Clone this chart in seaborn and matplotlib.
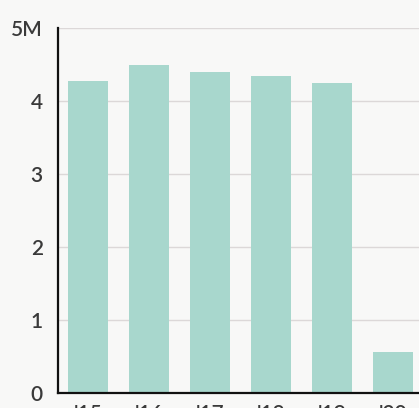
import numpy as np
import pandas as pd
import matplotlib
matplotlib.use("Agg")
import matplotlib.pyplot as plt
import seaborn as sns

# Values (millions)
years = ["'15", "'16", "'17", "'18", "'19", "'20"]
values_m = [4.27, 4.49, 4.40, 4.34, 4.25, 0.56]
y_ticks = [0, 1, 2, 3, 4, 5]
y_labels = ["0", "1", "2", "3", "4", "5M"]

BAR_COLOR = "#a8d7cd"
BG = "#f8f8f7"

df = pd.DataFrame({"year": years, "value": np.array(values_m) * 1e6})

sns.set_style("white")
plt.rcParams["font.family"] = ["Lato", "DejaVu Sans"]

fig = plt.figure(figsize=(4.19, 4.08), dpi=100, facecolor=BG)
ax = fig.add_axes([58 / 419, 15 / 408, 1 - 58 / 419, (393 - 28) / 408])
ax.set_facecolor(BG)

sns.barplot(data=df, x="year", y="value", color=BAR_COLOR, width=0.65,
            saturation=1, linewidth=0, ax=ax, zorder=2)

ax.set_ylim(0, 5e6)
ax.set_xlim(-0.49, 5.43)
ax.set_yticks([t * 1e6 for t in y_ticks])
ax.set_yticklabels(y_labels)
ax.set_xlabel("")
ax.set_ylabel("")

# light horizontal grid
ax.yaxis.grid(True, color="#dcd8d8", linewidth=1.0, zorder=0)
ax.set_axisbelow(True)

for side in ["top", "right"]:
    ax.spines[side].set_visible(False)
for side in ["left", "bottom"]:
    ax.spines[side].set_color("#111111")
    ax.spines[side].set_linewidth(1.6)

ax.tick_params(axis="y", length=0, pad=11, labelsize=15, labelcolor="#3a3a3a")
ax.tick_params(axis="x", length=0, pad=8, labelsize=15, labelcolor="#3a3a3a")
for lbl in ax.get_yticklabels() + ax.get_xticklabels():
    lbl.set_fontweight("semibold")

# small inward ticks between the bars
ax.set_xticks([i + 0.5 for i in range(5)], minor=True)
ax.tick_params(axis="x", which="minor", direction="in", length=7,
               width=1.6, color="#111111")

fig.savefig("out.png", dpi=100, facecolor=BG)
